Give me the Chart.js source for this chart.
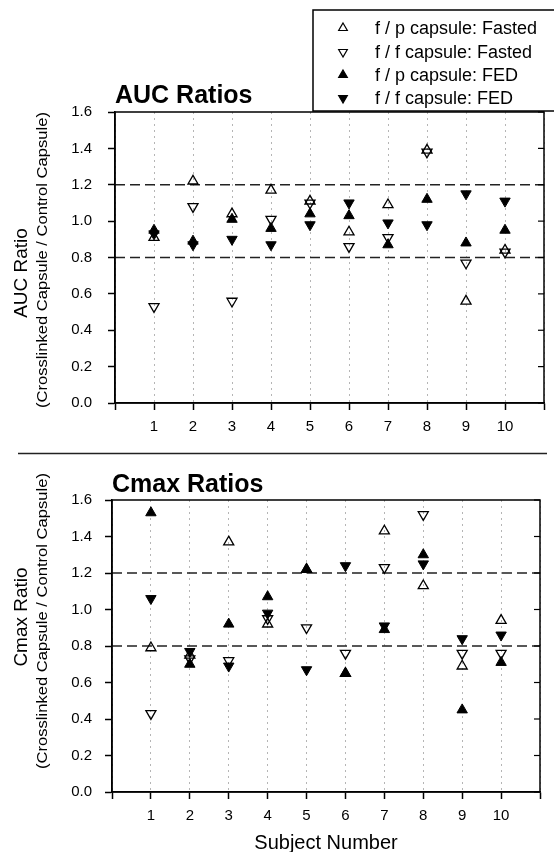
<!DOCTYPE html>
<html>
<head>
<meta charset="utf-8">
<script src="https://cdn.jsdelivr.net/npm/chart.js@4/dist/chart.umd.min.js"></script>
<style>
  html, body { margin: 0; padding: 0; background: #fff; }
  #wrap { position: relative; width: 554px; height: 852px; overflow: hidden; }
  .box { position: absolute; left: 0; width: 554px; }
</style>
</head>
<body>
<div id="wrap">
  <div class="box" style="top:0;height:452px"><canvas id="auc"></canvas></div>
  <div class="box" style="top:452px;height:400px"><canvas id="cmax"></canvas></div>
</div>
<script>
// data
const subjects = [1, 2, 3, 4, 5, 6, 7, 8, 9, 10];
const seriesLabels = ["f / p capsule: Fasted", "f / f capsule: Fasted", "f / p capsule: FED", "f / f capsule: FED"];
const refLimits = [0.8, 1.2];

const aucFpFasted = [0.91, 1.22, 1.04, 1.17, 1.11, 0.94, 1.09, 1.39, 0.56, 0.84];
const aucFfFasted = [0.53, 1.08, 0.56, 1.01, 1.10, 0.86, 0.91, 1.38, 0.77, 0.83];
const aucFpFed    = [0.95, 0.89, 1.01, 0.96, 1.04, 1.03, 0.87, 1.12, 0.88, 0.95];
const aucFfFed    = [0.93, 0.87, 0.90, 0.87, 0.98, 1.10, 0.99, 0.98, 1.15, 1.11];

const cmaxFpFasted = [0.79, 0.75, 1.37, 0.92, 1.22, 0.65, 1.43, 1.13, 0.69, 0.94];
const cmaxFfFasted = [0.43, 0.73, 0.72, 0.95, 0.90, 0.76, 1.23, 1.52, 0.76, 0.76];
const cmaxFpFed    = [1.53, 0.70, 0.92, 1.07, 1.22, 0.65, 0.89, 1.30, 0.45, 0.71];
const cmaxFfFed    = [1.06, 0.77, 0.69, 0.98, 0.67, 1.24, 0.91, 1.25, 0.84, 0.86];

const FONT = '"Liberation Sans", Arial, sans-serif';
const INK = "#000";

// marker look per series: open/filled, up/down
const markers = [
  { filled: false, rotation: 0 },
  { filled: false, rotation: 180 },
  { filled: true, rotation: 0 },
  { filled: true, rotation: 180 },
];

function seriesDatasets(values) {
  return values.map((vals, i) => {
    const m = markers[i];
    return {
      type: "scatter",
      label: seriesLabels[i],
      data: subjects.map((s, j) => ({ x: s, y: vals[j] })),
      pointStyle: "triangle",
      rotation: m.rotation,
      pointRadius: m.filled ? 6 : 5.8,
      pointBorderWidth: m.filled ? 1 : 1.3,
      pointBorderColor: INK,
      pointBackgroundColor: m.filled ? INK : "rgba(0,0,0,0)",
      order: m.filled ? 1 : 2,
    };
  });
}

function refDatasets() {
  return refLimits.map((v) => ({
    type: "line",
    label: "ref " + v,
    data: [{ x: 0, y: v }, { x: 11, y: v }],
    borderColor: "#222",
    borderWidth: 1.6,
    borderDash: [10, 5],
    pointRadius: 0,
    order: 3,
  }));
}

function drawMarker(ctx, m, r, x, y) {
  ctx.fillStyle = m.filled ? INK : "rgba(0,0,0,0)";
  ctx.strokeStyle = INK;
  ctx.lineWidth = 1.2;
  Chart.helpers.drawPoint(ctx, { pointStyle: "triangle", rotation: m.rotation, radius: r, borderWidth: 1.2 }, x, y);
}

const decor = {
  id: "decor",
  afterDraw(chart, args, o) {
    const { ctx, chartArea: a, scales } = chart;
    const y = scales.y;
    ctx.save();
    // frame round the plot
    ctx.strokeStyle = INK;
    ctx.lineWidth = 1.5;
    ctx.strokeRect(a.left, a.top, a.right - a.left, a.bottom - a.top);
    // short inward ticks on the right edge
    ctx.lineWidth = 1.2;
    y.ticks.forEach((t) => {
      const py = y.getPixelForValue(t.value);
      ctx.beginPath();
      ctx.moveTo(a.right - 6, py);
      ctx.lineTo(a.right, py);
      ctx.stroke();
    });
    // panel title
    ctx.fillStyle = INK;
    ctx.font = "bold 25px " + FONT;
    ctx.textAlign = "left";
    ctx.textBaseline = "alphabetic";
    ctx.fillText(o.title, a.left, o.titleY);
    // rotated y titles
    ctx.save();
    ctx.translate(22, o.yTitleY);
    ctx.rotate(-Math.PI / 2);
    ctx.font = "19px " + FONT;
    ctx.textAlign = "center";
    ctx.textBaseline = "middle";
    ctx.fillText(o.yTitle, 0, 0);
    ctx.restore();
    ctx.save();
    ctx.translate(43, o.ySubY);
    ctx.rotate(-Math.PI / 2);
    ctx.font = "15px " + FONT;
    const w = ctx.measureText(o.ySub).width;
    ctx.scale(296 / w, 1);
    ctx.textAlign = "center";
    ctx.textBaseline = "middle";
    ctx.fillText(o.ySub, 0, 0);
    ctx.restore();
    // x title
    if (o.xTitle) {
      ctx.font = "20px " + FONT;
      ctx.textAlign = "center";
      ctx.textBaseline = "alphabetic";
      ctx.fillText(o.xTitle, (a.left + a.right) / 2, o.xTitleY);
    }
    // separator rule between the panels
    if (o.sep) {
      ctx.strokeStyle = "#222";
      ctx.lineWidth = 1.5;
      ctx.beginPath();
      ctx.moveTo(18, 1.5);
      ctx.lineTo(547, 1.5);
      ctx.stroke();
    }
    // legend box
    if (o.legend) {
      ctx.fillStyle = "#fff";
      ctx.fillRect(313, 10, 260, 101);
      ctx.strokeStyle = INK;
      ctx.lineWidth = 1.5;
      ctx.strokeRect(313, 10, 260, 101);
      const rows = [28, 52, 75, 98];
      ctx.font = "18px " + FONT;
      ctx.textAlign = "left";
      ctx.textBaseline = "middle";
      seriesLabels.forEach((lab, i) => {
        drawMarker(ctx, markers[i], 5, 343, rows[i]);
        ctx.fillStyle = INK;
        ctx.fillText(lab, 375, rows[i] + 1);
      });
    }
    ctx.restore();
  },
};

function makeChart(id, values, p) {
  return new Chart(document.getElementById(id), {
    data: { datasets: seriesDatasets(values).concat(refDatasets()) },
    options: {
      responsive: true,
      maintainAspectRatio: false,
      animation: false,
      events: [],
      layout: { padding: { top: p.top, right: p.right, bottom: 0, left: 0 } },
      plugins: {
        legend: { display: false },
        tooltip: { enabled: false },
        decor: p.decor,
      },
      scales: {
        x: {
          type: "linear",
          min: 0,
          max: 11,
          afterFit: (s) => { s.height = p.xHeight; },
          ticks: {
            stepSize: 1,
            color: INK,
            font: { family: FONT, size: 15 },
            padding: 8,
            maxRotation: 0,
            autoSkip: false,
            callback: (v) => (v >= 1 && v <= 10 ? String(v) : ""),
          },
          grid: {
            color: "#b5b5b5",
            lineWidth: 1,
            tickColor: INK,
            tickWidth: 1.5,
            tickLength: 7,
          },
          border: { display: true, color: INK, width: 1.5, dash: [2, 4] },
        },
        y: {
          min: 0,
          max: 1.6,
          afterFit: (s) => { s.width = p.yWidth; },
          ticks: {
            stepSize: 0.2,
            color: INK,
            font: { family: FONT, size: 15 },
            padding: p.yPad,
            callback: (v) => v.toFixed(1),
          },
          grid: {
            drawOnChartArea: false,
            color: INK,
            tickWidth: 1.5,
            tickLength: 7,
          },
          border: { display: true, color: INK, width: 1.5 },
        },
      },
    },
    plugins: [decor],
  });
}

makeChart("auc", [aucFpFasted, aucFfFasted, aucFpFed, aucFfFed], {
  top: 112, right: 10, xHeight: 49, yWidth: 115, yPad: 16,
  decor: {
    title: "AUC Ratios", titleY: 103,
    yTitle: "AUC Ratio", yTitleY: 273,
    ySub: "(Crosslinked Capsule / Control Capsule)", ySubY: 260,
    legend: true,
  },
});

makeChart("cmax", [cmaxFpFasted, cmaxFfFasted, cmaxFpFed, cmaxFfFed], {
  top: 48, right: 14, xHeight: 60, yWidth: 112, yPad: 13,
  decor: {
    title: "Cmax Ratios", titleY: 40,
    yTitle: "Cmax Ratio", yTitleY: 165,
    ySub: "(Crosslinked Capsule / Control Capsule)", ySubY: 169,
    xTitle: "Subject Number", xTitleY: 397,
    sep: true,
  },
});
</script>
</body>
</html>
